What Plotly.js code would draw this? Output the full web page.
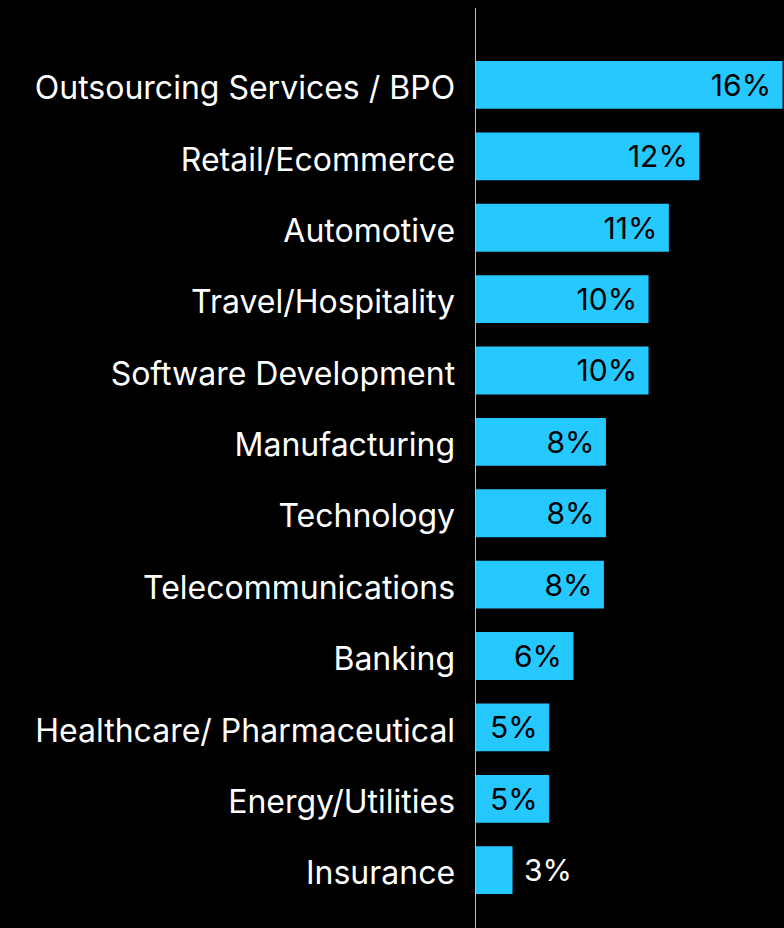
<!DOCTYPE html>
<html>
<head>
<meta charset="utf-8">
<script src="https://cdn.plot.ly/plotly-3.0.1.min.js"></script>
<style>
  html, body { margin: 0; padding: 0; background: #000; overflow: hidden; }
  #chart { width: 840px; height: 928px; }
</style>
</head>
<body>
<div id="chart"></div>
<script>
const industries = ["Outsourcing Services / BPO", "Retail/Ecommerce", "Automotive",
                    "Travel/Hospitality", "Software Development", "Manufacturing",
                    "Technology", "Telecommunications", "Banking",
                    "Healthcare/ Pharmaceutical", "Energy/Utilities", "Insurance"];
// shares; labels are the rounded figures shown on the bars
const shares = [16.5, 12.4, 10.9, 9.9, 9.9, 7.8, 7.8, 7.7, 6.2, 5.0, 5.0, 3.2];
const shareLabels = ["16%", "12%", "11%", "10%", "10%", "8%", "8%", "8%", "6%", "5%", "5%", "3%"];

const barColor = "#25c8ff";
const fontFamily = "Inter, 'Noto Sans', sans-serif";

const positions = shares.map((v, i) => i === shares.length - 1 ? "outside" : "inside");
const templates = shares.map((v, i) => i === shares.length - 1 ? "\u00a0%{text}" : "%{text}\u00a0");

const data = [{
    type: "bar",
    orientation: "h",
    y: industries,
    x: shares,
    text: shareLabels,
    texttemplate: templates,
    textposition: positions,
    insidetextanchor: "end",
    constraintext: "none",
    insidetextfont: {family: fontFamily, size: 30, color: "#000"},
    outsidetextfont: {family: fontFamily, size: 30, color: "#fff"},
    marker: {color: barColor},
    cliponaxis: false,
    hoverinfo: "none"
}];

const layout = {
    width: 840,
    height: 928,
    paper_bgcolor: "#000",
    plot_bgcolor: "#000",
    margin: {l: 476, r: 0, t: 8, b: 0, pad: 0},
    bargap: 0.33,
    showlegend: false,
    font: {family: fontFamily, size: 30, color: "#fff"},
    xaxis: {range: [1.4, 19.33], visible: false, fixedrange: true},
    yaxis: {type: "category",
            range: [11.81, -1.078],
            showline: true,
            linecolor: "#bdbdbd",
            linewidth: 1.5,
            showgrid: false,
            zeroline: false,
            ticks: "outside",
            ticklen: 13,
            tickcolor: "rgba(0,0,0,0)",
            ticklabelshift: -3,
            tickfont: {family: fontFamily, size: 32, color: "#fff"},
            fixedrange: true}
};

Plotly.newPlot("chart", data, layout, {displayModeBar: false, staticPlot: true});
</script>
</body>
</html>
